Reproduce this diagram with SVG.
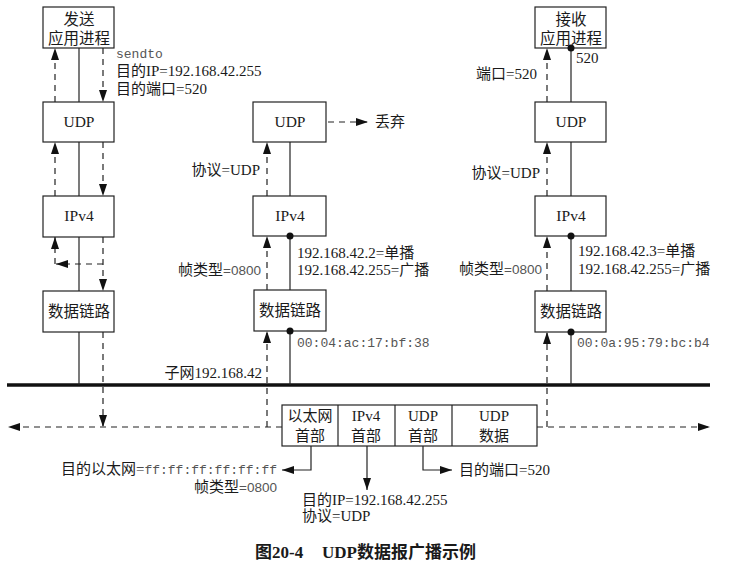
<svg xmlns="http://www.w3.org/2000/svg" width="732" height="563" viewBox="0 0 732 563">
<style>
.box{fill:#fff;stroke:#222;stroke-width:1.2}
.sol{stroke:#222;stroke-width:1.2;fill:none}
.dash{stroke:#222;stroke-width:1.2;fill:none;stroke-dasharray:6 5}
.bus{stroke:#111;stroke-width:3.5}
.dot{fill:#111}
text{font-family:"Liberation Serif","Noto Sans CJK SC",serif;font-size:15px;fill:#1a1a1a}
.lbl{font-size:15.5px}
.c{text-anchor:middle}
.r{text-anchor:end}
.mono{font-family:"Liberation Mono",monospace;font-size:13px;fill:#555}
.sans{font-family:"Liberation Sans",sans-serif;font-size:13.5px;fill:#555}
.cap{font-size:17px;font-weight:bold}
</style>
<defs>
<marker id="ah" viewBox="0 0 12 8" refX="12" refY="4" markerWidth="12" markerHeight="8" markerUnits="userSpaceOnUse" orient="auto"><path d="M0,0 L12,4 L0,8 z" fill="#111"/></marker>
</defs>
<rect width="732" height="563" fill="#fff"/>

<g id="connectors">
<line class="bus" x1="7" y1="385" x2="710" y2="385"/>
<line class="sol" x1="79" y1="48" x2="79" y2="102"/>
<line class="sol" x1="79" y1="142" x2="79" y2="196"/>
<line class="sol" x1="79" y1="237" x2="79" y2="291"/>
<line class="sol" x1="79" y1="332" x2="79" y2="385"/>
<line class="dash" x1="55" y1="102" x2="55" y2="48" marker-end="url(#ah)"/>
<line class="dash" x1="103" y1="48" x2="103" y2="102" marker-end="url(#ah)"/>
<line class="dash" x1="55" y1="196" x2="55" y2="142" marker-end="url(#ah)"/>
<line class="dash" x1="103" y1="142" x2="103" y2="196" marker-end="url(#ah)"/>
<line class="dash" x1="103" y1="237" x2="103" y2="291" marker-end="url(#ah)"/>
<line class="dash" x1="103" y1="264" x2="56" y2="264" marker-end="url(#ah)"/>
<line class="dash" x1="55" y1="264" x2="55" y2="237" marker-end="url(#ah)"/>
<line class="dash" x1="103" y1="332" x2="103" y2="427" marker-end="url(#ah)"/>
<line class="dash" x1="282" y1="427" x2="8" y2="427" marker-end="url(#ah)"/>
<line class="dash" x1="537" y1="427" x2="710" y2="427" marker-end="url(#ah)"/>
<line class="sol" x1="290" y1="142" x2="290" y2="196"/>
<line class="sol" x1="290" y1="236" x2="290" y2="290"/>
<line class="sol" x1="290" y1="331" x2="290" y2="385"/>
<line class="dash" x1="267" y1="427" x2="267" y2="331" marker-end="url(#ah)"/>
<line class="dash" x1="267" y1="290" x2="267" y2="236" marker-end="url(#ah)"/>
<line class="dash" x1="267" y1="196" x2="267" y2="142" marker-end="url(#ah)"/>
<line class="dash" x1="328" y1="122" x2="368" y2="122" marker-end="url(#ah)"/>
<line class="sol" x1="571" y1="48" x2="571" y2="102"/>
<line class="sol" x1="571" y1="142" x2="571" y2="196"/>
<line class="sol" x1="571" y1="236" x2="571" y2="291"/>
<line class="sol" x1="571" y1="332" x2="571" y2="385"/>
<line class="dash" x1="547" y1="427" x2="547" y2="332" marker-end="url(#ah)"/>
<line class="dash" x1="547" y1="291" x2="547" y2="236" marker-end="url(#ah)"/>
<line class="dash" x1="547" y1="196" x2="547" y2="142" marker-end="url(#ah)"/>
<line class="dash" x1="547" y1="102" x2="547" y2="48" marker-end="url(#ah)"/>
<polyline class="sol" points="311,446 311,470 282,470" marker-end="url(#ah)"/>
<line class="sol" x1="367" y1="446" x2="367" y2="490" marker-end="url(#ah)"/>
<polyline class="sol" points="423,446 423,470 452,470" marker-end="url(#ah)"/>
</g>

<g id="send-app"><rect class="box" x="43" y="7" width="71" height="41"/><text class="lbl c" x="79" y="25">发送</text><text class="lbl c" x="79" y="44">应用进程</text></g>
<g id="send-udp"><rect class="box" x="43" y="102" width="71" height="40"/><text class="lbl c" x="79" y="127">UDP</text></g>
<g id="send-ipv4"><rect class="box" x="43" y="196" width="71" height="41"/><text class="lbl c" x="79" y="221">IPv4</text></g>
<g id="send-dl"><rect class="box" x="43" y="291" width="71" height="41"/><text class="lbl c" x="79" y="317">数据链路</text></g>

<g id="mid-udp"><rect class="box" x="253" y="102" width="73" height="40"/><text class="lbl c" x="290" y="127">UDP</text></g>
<g id="mid-ipv4"><rect class="box" x="253" y="196" width="73" height="40"/><text class="lbl c" x="290" y="221">IPv4</text></g>
<g id="mid-dl"><rect class="box" x="254" y="290" width="72" height="41"/><text class="lbl c" x="290" y="316">数据链路</text></g>

<g id="recv-app"><rect class="box" x="535" y="7" width="71" height="41"/><text class="lbl c" x="571" y="25">接收</text><text class="lbl c" x="571" y="44">应用进程</text></g>
<g id="recv-udp"><rect class="box" x="535" y="102" width="71" height="40"/><text class="lbl c" x="571" y="127">UDP</text></g>
<g id="recv-ipv4"><rect class="box" x="535" y="196" width="71" height="40"/><text class="lbl c" x="571" y="221">IPv4</text></g>
<g id="recv-dl"><rect class="box" x="535" y="291" width="71" height="41"/><text class="lbl c" x="571" y="317">数据链路</text></g>

<g id="frame">
<rect class="box" x="282" y="405" width="255" height="41"/>
<line class="sol" x1="338" y1="405" x2="338" y2="446"/>
<line class="sol" x1="395" y1="405" x2="395" y2="446"/>
<line class="sol" x1="452" y1="405" x2="452" y2="446"/>
<text class="c" x="310" y="421">以太网</text><text class="c" x="310" y="441">首部</text>
<text class="c" x="366" y="421">IPv4</text><text class="c" x="366" y="441">首部</text>
<text class="c" x="423" y="421">UDP</text><text class="c" x="423" y="441">首部</text>
<text class="c" x="494" y="421">UDP</text><text class="c" x="494" y="441">数据</text>
</g>

<g id="ports">
<circle class="dot" cx="290" cy="236" r="3.5"/>
<circle class="dot" cx="290" cy="331" r="3.5"/>
<circle class="dot" cx="571" cy="48" r="3.5"/>
<circle class="dot" cx="571" cy="236" r="3.5"/>
<circle class="dot" cx="571" cy="332" r="3.5"/>
</g>

<g id="labels">
<text class="mono" x="116" y="58">sendto</text>
<text x="116" y="76">目的IP=192.168.42.255</text>
<text x="116" y="94">目的端口=520</text>
<text x="375" y="127">丢弃</text>
<text class="r" x="260" y="175">协议=UDP</text>
<text class="r" x="261" y="275">帧类型<tspan class="sans">=0800</tspan></text>
<text x="297" y="258">192.168.42.2=单播</text>
<text x="297" y="275">192.168.42.255=广播</text>
<text class="mono" x="297" y="347">00:04:ac:17:bf:38</text>
<text class="r" x="262" y="378">子网192.168.42</text>
<text x="576" y="63">520</text>
<text class="r" x="537" y="79">端口=520</text>
<text class="r" x="540" y="178">协议=UDP</text>
<text class="r" x="542" y="274">帧类型<tspan class="sans">=0800</tspan></text>
<text x="578" y="256">192.168.42.3=单播</text>
<text x="578" y="274">192.168.42.255=广播</text>
<text class="mono" x="577" y="347">00:0a:95:79:bc:b4</text>
<text class="r" x="277" y="474">目的以太网=<tspan class="mono">ff:ff:ff:ff:ff:ff</tspan></text>
<text class="r" x="277" y="492">帧类型<tspan class="sans">=0800</tspan></text>
<text x="459" y="475">目的端口=520</text>
<text x="302" y="505">目的IP=192.168.42.255</text>
<text x="302" y="521">协议=UDP</text>
<text class="cap" x="255" y="558">图20-4</text>
<text class="cap" x="322" y="558">UDP数据报广播示例</text>
</g>
</svg>
